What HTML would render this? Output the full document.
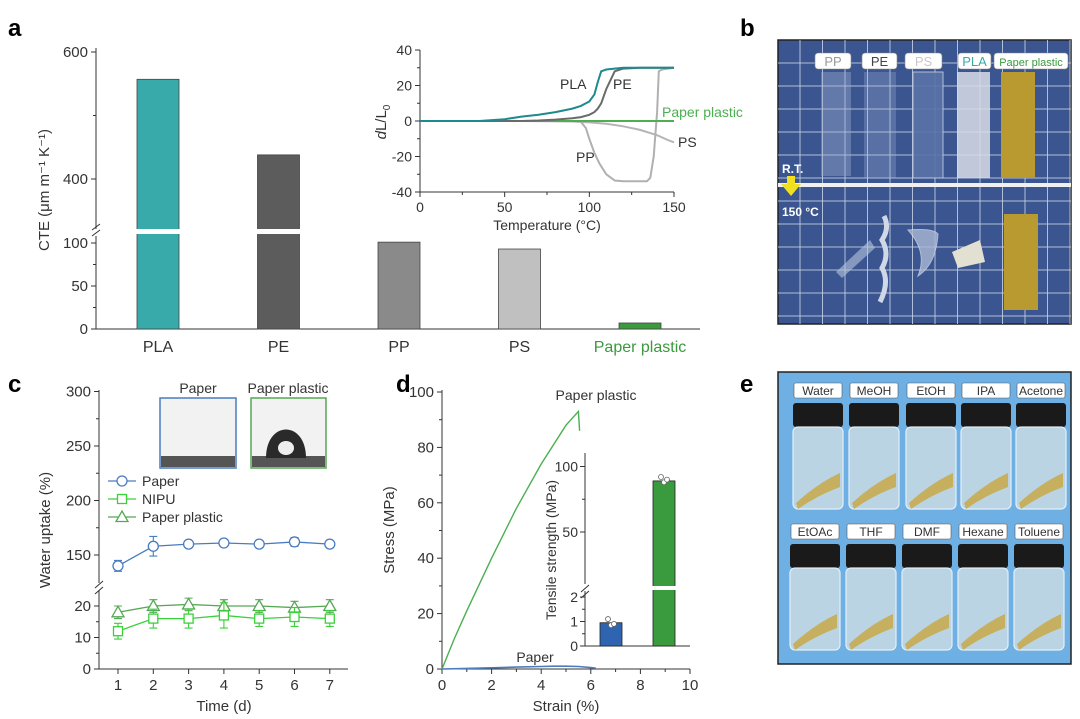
<!DOCTYPE html>
<html><head><meta charset="utf-8"><style>
html,body{margin:0;padding:0;background:#fff}
svg{display:block;font-family:"Liberation Sans Narrow","Liberation Sans",sans-serif}
</style></head><body>
<svg id="fig" width="1080" height="719" viewBox="0 0 1080 719" xmlns="http://www.w3.org/2000/svg">
<g font-family="Liberation Sans,sans-serif" font-weight="bold" font-size="24" fill="#000">
<text x="8" y="36">a</text>
<text x="740" y="36">b</text>
<text x="8" y="392">c</text>
<text x="396" y="392">d</text>
<text x="740" y="392">e</text>
</g>
<g id="pa"></g>
<g id="pai"></g>
<g id="pb"></g>
<g id="pc"></g>
<g id="pd"></g>
<g id="pdi"></g>
<g id="pe"></g>
</svg>
<script>
// ---- Panel a data
const cteCats = ["PLA","PE","PP","PS","Paper plastic"];
const cteVals = [557, 438, 101, 93, 7];
const cteColors = ["#38aaaa","#5c5c5c","#8a8a8a","#c0c0c0","#3a9a3e"];
const cteTicksUpper = [400, 600];
const cteTicksLower = [0, 50, 100];
// ---- Panel a inset data
const tempX = [0,20,35,50,60,70,80,90,95,100,103,105,107,110,115,120,130,140,150];
const dlPLA = [0,0,0,1,2.5,3.5,5,7,8.5,11,15,22,28,29,29.5,30,30,30,30];
const dlPE  = [0,0,0,0,0,0.3,0.8,1.5,2.2,3.5,5,7,10,18,28,29.5,30,30,30];
const dlPaperPlastic = [0,0,0,0,0,0,0,0,0,0,0,0,0,0,0,0,0,0,0];
const ppX = [0,50,90,95,98,100,103,106,110,115,120,130,134,136,138,140,141,143,150];
const dlPP = [0,0,0,-0.5,-4,-10,-18,-24,-30,-33.5,-34,-34,-34,-32,-20,5,28,29,30];
const psX = [0,60,90,100,110,120,130,140,147,150];
const dlPS = [0,0,-0.3,-0.8,-1.5,-3,-5,-8,-11,-12];
const insetXTicks = [0,50,100,150];
const insetYTicks = [-40,-20,0,20,40];
// ---- Panel c data
const days = [1,2,3,4,5,6,7];
const paperUptake = [140,158,160,161,160,162,160];
const paperErr = [5,9,3,3,3,4,3];
const nipuUptake = [12,16,16,17,16,16.5,16];
const nipuErr = [2.5,3,3,4,2.5,3,2.5];
const ppUptake = [18,20,20.5,20,20,19.5,20];
const ppErr = [2,2,2,2,2,2,2];
const cTicksUpper = [150,200,250,300];
const cTicksLower = [0,10,20];
// ---- Panel d data
const strainPP = [0,0.5,1,2,3,4,5,5.5,5.55];
const stressPP = [0,11,21,40,58,74,88,93,86];
const strainPaper = [0,1,2,3,4,4.5,5,5.5,6,6.2];
const stressPaper = [0,0.2,0.45,0.7,0.9,1,1,0.9,0.5,0.3];
const dXTicks = [0,2,4,6,8,10];
const dYTicks = [0,20,40,60,80,100];
const tensCats = ["Paper","Paper plastic"];
const tensVals = [0.95, 89];
const tensPtsPaper = [1.1,0.85,0.9];
const tensPtsPP = [92,88,90];

const NS="http://www.w3.org/2000/svg";
function mk(parent,tag,attrs,text){const e=document.createElementNS(NS,tag);for(const k in attrs)e.setAttribute(k,attrs[k]);if(text!==undefined)e.textContent=text;parent.appendChild(e);return e;}
const FS=15;

// ================= Panel A
(function(){
const g=document.getElementById('pa');
const ax=96, xEnd=700, y0=329;
const yU=v=>52+(600-v)*0.635;
const yL=v=>y0-v*0.86;
const yA=v=>v>200?yU(v):yL(v);
const cx=i=>158+i*120.5;
mk(g,'line',{x1:ax,y1:48,x2:ax,y2:229,stroke:'#333','stroke-width':1});
mk(g,'line',{x1:ax,y1:236,x2:ax,y2:y0,stroke:'#333','stroke-width':1});
mk(g,'line',{x1:ax,y1:y0,x2:xEnd,y2:y0,stroke:'#333','stroke-width':1});
mk(g,'path',{d:`M${ax-4},${230}L${ax+4},${224}M${ax-4},${236}L${ax+4},${230}`,stroke:'#333',fill:'none'});
cteTicksUpper.forEach(v=>{const y=yU(v);mk(g,'line',{x1:ax-5,y1:y,x2:ax,y2:y,stroke:'#333'});
const tx=mk(g,'text',{x:ax-8,y:y+5,'text-anchor':'end','font-size':FS,fill:'#333'},v);
});
[500].forEach(v=>mk(g,'line',{x1:ax-3,y1:yU(v),x2:ax,y2:yU(v),stroke:'#333'}));
cteTicksLower.forEach(v=>{const y=yL(v);mk(g,'line',{x1:ax-5,y1:y,x2:ax,y2:y,stroke:'#333'});
const tx=mk(g,'text',{x:ax-8,y:y+5,'text-anchor':'end','font-size':FS,fill:'#333'},v);
});
[25,75].forEach(v=>mk(g,'line',{x1:ax-3,y1:yL(v),x2:ax,y2:yL(v),stroke:'#333'}));
const tt=mk(g,'text',{transform:'translate(49,190) rotate(-90)','text-anchor':'middle','font-size':FS,fill:'#333'},'CTE (μm m⁻¹ K⁻¹)');

cteVals.forEach((v,i)=>{const x=cx(i)-21;const top=yA(v);
const r=mk(g,'rect',{x:x,y:top,width:42,height:y0-top,fill:cteColors[i],stroke:'#444','stroke-width':0.8});

if(v>200) mk(g,'rect',{x:x-1,y:229,width:44,height:5,fill:'#fff'});
const lb=mk(g,'text',{x:cx(i),y:352,'text-anchor':'middle','font-size':16,fill:i==4?'#3a9a3e':'#333'},cteCats[i]);
});
})();

// ================= Panel A inset
(function(){
const g=document.getElementById('pai');
const X=v=>420+v*(254/150), Y=v=>121-v*(71/40);
mk(g,'line',{x1:420,y1:50,x2:420,y2:192,stroke:'#333'});
mk(g,'line',{x1:420,y1:192,x2:674,y2:192,stroke:'#333'});
insetXTicks.forEach(v=>{mk(g,'line',{x1:X(v),y1:192,x2:X(v),y2:197,stroke:'#333'});
const t=mk(g,'text',{x:X(v),y:212,'text-anchor':'middle','font-size':14,fill:'#333'},v);
});
[25,75,125].forEach(v=>mk(g,'line',{x1:X(v),y1:192,x2:X(v),y2:195,stroke:'#333'}));
insetYTicks.forEach(v=>{mk(g,'line',{x1:415,y1:Y(v),x2:420,y2:Y(v),stroke:'#333'});
const t=mk(g,'text',{x:412,y:Y(v)+5,'text-anchor':'end','font-size':14,fill:'#333'},v);
});
[-30,-10,10,30].forEach(v=>mk(g,'line',{x1:417,y1:Y(v),x2:420,y2:Y(v),stroke:'#333'}));
const xt=mk(g,'text',{x:547,y:230,'text-anchor':'middle','font-size':14,fill:'#333'},'Temperature (°C)');

const yt=mk(g,'text',{transform:'translate(386,122) rotate(-90)','text-anchor':'middle','font-size':15,fill:'#333'});

mk(yt,'tspan',{'font-style':'italic'},'d');mk(yt,'tspan',{},'L/L');mk(yt,'tspan',{'font-size':10,dy:4},'0');
function line(xs,ys,col,name){const d=xs.map((x,i)=>(i?'L':'M')+X(x).toFixed(1)+','+Y(ys[i]).toFixed(1)).join('');
const p=mk(g,'path',{d:d,fill:'none',stroke:col,'stroke-width':2});}
line(psX,dlPS,'#b5b5b5','line-ps');
line(ppX,dlPP,'#b0b0b0','line-pp');
line(tempX,dlPaperPlastic,'#4caf50','line-paper-plastic');
line(tempX,dlPE,'#6a6a6a','line-pe');
line(tempX,dlPLA,'#1e8a8c','line-pla');
[['PLA',560,89,'#333'],['PE',613,89,'#333'],['Paper plastic',662,117,'#4caf50'],['PS',678,147,'#333'],['PP',576,162,'#333']].forEach(a=>{
const t=mk(g,'text',{x:a[1],y:a[2],'font-size':14,fill:a[3]},a[0]);});
})();

// ================= Panel B photo
(function(){
const g=document.getElementById('pb');
const x0=778,y0=40,w=293,h=284;
mk(g,'rect',{x:x0,y:y0,width:w,height:h,fill:'#3a5590',stroke:'#222','stroke-width':1.5});
for(let x=x0+22;x<x0+w;x+=22.5) mk(g,'line',{x1:x,y1:y0,x2:x,y2:y0+h,stroke:'#c8d2e6','stroke-width':1,opacity:0.85});
for(let y=y0+23;y<y0+h;y+=23) mk(g,'line',{x1:x0,y1:y,x2:x0+w,y2:y,stroke:'#c8d2e6','stroke-width':1,opacity:0.85});
mk(g,'rect',{x:x0,y:183,width:w,height:4,fill:'#f0f0f0'});
mk(g,'rect',{x:821,y:72,width:30,height:104,fill:'#9fb0cf',opacity:0.4});
mk(g,'rect',{x:864,y:72,width:32,height:106,fill:'#9fb0cf',opacity:0.3});
mk(g,'rect',{x:913,y:72,width:30,height:106,fill:'#5a73a8',stroke:'#c0cae0',opacity:0.9});
mk(g,'rect',{x:957,y:72,width:33,height:106,fill:'#d8dde6',opacity:0.85});
mk(g,'rect',{x:1001,y:72,width:34,height:106,fill:'#b89a30'});
mk(g,'rect',{x:1004,y:214,width:34,height:96,fill:'#b89a30'});
mk(g,'path',{d:'M836,272 L870,240 L875,248 L842,278Z',fill:'#b8c4dc',opacity:0.6});
mk(g,'path',{d:'M884,216 q6,12 -2,24 q8,14 0,28 q8,14 -2,34',stroke:'#d0d8e8','stroke-width':5,fill:'none'});
mk(g,'path',{d:'M908,230 q25,-2 30,4 q-2,30 -20,42 q10,-24 -10,-46Z',fill:'#aab8d4',stroke:'#d0d8e8',opacity:0.8});
mk(g,'path',{d:'M952,252 L980,240 L985,262 L958,268Z',fill:'#e2e0d0'});
mk(g,'path',{d:'M787,176 h8 v8 h6 l-10,12 l-10,-12 h6z',fill:'#f0e020'});
const rt=mk(g,'text',{x:782,y:173,'font-size':12,'font-weight':'bold',fill:'#fff','font-family':'Liberation Sans,sans-serif'},'R.T.');

const ht=mk(g,'text',{x:782,y:216,'font-size':12,'font-weight':'bold',fill:'#fff','font-family':'Liberation Sans,sans-serif'},'150 °C');

[['PP',815,36,'#999'],['PE',862,35,'#444'],['PS',905,37,'#c8c8c8'],['PLA',958,33,'#38aaaa'],['Paper plastic',994,74,'#3a9a3e']].forEach(a=>{
mk(g,'rect',{x:a[1],y:53,width:a[2],height:16,rx:3,fill:'#fff',stroke:'#888','stroke-width':0.6});
const t=mk(g,'text',{x:a[1]+a[2]/2,y:66,'text-anchor':'middle','font-size':a[0].length>4?11:13,fill:a[3],'font-family':'Liberation Sans,sans-serif'},a[0]);
});
})();

// ================= Panel C
(function(){
const g=document.getElementById('pc');
const ax=99;
const yU=v=>555-(v-150)*1.09, yL=v=>669-v*3.15;
const X=d=>118+(d-1)*35.3;
mk(g,'line',{x1:ax,y1:390,x2:ax,y2:583,stroke:'#333'});
mk(g,'line',{x1:ax,y1:590,x2:ax,y2:669,stroke:'#333'});
mk(g,'path',{d:`M${ax-4},588L${ax+4},581M${ax-4},594L${ax+4},587`,stroke:'#333',fill:'none'});
mk(g,'line',{x1:ax,y1:669,x2:348,y2:669,stroke:'#333'});
cTicksUpper.forEach(v=>{mk(g,'line',{x1:ax-5,y1:yU(v),x2:ax,y2:yU(v),stroke:'#333'});
const t=mk(g,'text',{x:ax-8,y:yU(v)+5,'text-anchor':'end','font-size':FS,fill:'#333'},v);});
[175,225,275].forEach(v=>mk(g,'line',{x1:ax-3,y1:yU(v),x2:ax,y2:yU(v),stroke:'#333'}));
cTicksLower.forEach(v=>{mk(g,'line',{x1:ax-5,y1:yL(v),x2:ax,y2:yL(v),stroke:'#333'});
const t=mk(g,'text',{x:ax-8,y:yL(v)+5,'text-anchor':'end','font-size':FS,fill:'#333'},v);});
[5,15].forEach(v=>mk(g,'line',{x1:ax-3,y1:yL(v),x2:ax,y2:yL(v),stroke:'#333'}));
days.forEach(d=>{mk(g,'line',{x1:X(d),y1:669,x2:X(d),y2:674,stroke:'#333'});
const t=mk(g,'text',{x:X(d),y:690,'text-anchor':'middle','font-size':FS,fill:'#333'},d);});
const xt=mk(g,'text',{x:224,y:711,'text-anchor':'middle','font-size':FS,fill:'#333'},'Time (d)');
const yt=mk(g,'text',{transform:'translate(50,530) rotate(-90)','text-anchor':'middle','font-size':FS,fill:'#333'},'Water uptake (%)');
function marker(shape,x,y,col){
 if(shape=='o') return mk(g,'circle',{cx:x,cy:y,r:5,fill:'#fff',stroke:col,'stroke-width':1.3});
 if(shape=='s') return mk(g,'rect',{x:x-4.5,y:y-4.5,width:9,height:9,fill:'#fff',stroke:col,'stroke-width':1.3});
 return mk(g,'path',{d:`M${x},${y-6}L${x+6},${y+4.5}L${x-6},${y+4.5}Z`,fill:'#fff',stroke:col,'stroke-width':1.3});}
function series(vals,errs,Y,col,shape,name){
 const d=vals.map((v,i)=>(i?'L':'M')+X(days[i])+','+Y(v)).join('');
 const p=mk(g,'path',{d:d,fill:'none',stroke:col,'stroke-width':1.3});
 vals.forEach((v,i)=>{const x=X(days[i]);const a=Y(v+errs[i]),b=Y(v-errs[i]);
  mk(g,'path',{d:`M${x},${a}V${b}M${x-4},${a}H${x+4}M${x-4},${b}H${x+4}`,stroke:col,'stroke-width':1.1,fill:'none'});
  const m=marker(shape,x,Y(v),col);});}
series(paperUptake,paperErr,yU,'#4a7cc0','o','paper');
series(ppUptake,ppErr,yL,'#55a855','t','paper-plastic');
series(nipuUptake,nipuErr,yL,'#3ad03a','s','nipu');
[['Paper','#4a7cc0','o',481],['NIPU','#3ad03a','s',499],['Paper plastic','#55a855','t',517]].forEach(a=>{
 mk(g,'line',{x1:108,y1:a[3],x2:136,y2:a[3],stroke:a[1],'stroke-width':1.3});marker(a[2],122,a[3],a[1]);
 const t=mk(g,'text',{x:142,y:a[3]+5,'font-size':14,fill:'#333'},a[0]);});
mk(g,'rect',{x:160,y:398,width:76,height:70,fill:'#f2f2f2',stroke:'#4a7cc0','stroke-width':1.5});
mk(g,'rect',{x:161,y:456,width:74,height:11,fill:'#555'});
mk(g,'rect',{x:251,y:398,width:75,height:70,fill:'#f2f2f2',stroke:'#55a855','stroke-width':1.5});
mk(g,'rect',{x:252,y:456,width:73,height:11,fill:'#555'});
mk(g,'path',{d:'M266,458 C266,420 306,420 306,458Z',fill:'#2a2a2a'});
mk(g,'ellipse',{cx:286,cy:448,rx:8,ry:7,fill:'#eee'});
[['Paper',198],['Paper plastic',288]].forEach(a=>{const t=mk(g,'text',{x:a[1],y:393,'text-anchor':'middle','font-size':14,fill:'#333'},a[0]);});
})();

// ================= Panel D
(function(){
const g=document.getElementById('pd');
const X=v=>442+v*24.8, Y=v=>669-v*2.77;
mk(g,'line',{x1:442,y1:390,x2:442,y2:669,stroke:'#333'});
mk(g,'line',{x1:442,y1:669,x2:690,y2:669,stroke:'#333'});
dXTicks.forEach(v=>{mk(g,'line',{x1:X(v),y1:669,x2:X(v),y2:674,stroke:'#333'});
const t=mk(g,'text',{x:X(v),y:690,'text-anchor':'middle','font-size':FS,fill:'#333'},v);});
[1,3,5,7,9].forEach(v=>mk(g,'line',{x1:X(v),y1:669,x2:X(v),y2:672,stroke:'#333'}));
dYTicks.forEach(v=>{mk(g,'line',{x1:437,y1:Y(v),x2:442,y2:Y(v),stroke:'#333'});
const t=mk(g,'text',{x:434,y:Y(v)+5,'text-anchor':'end','font-size':FS,fill:'#333'},v);});
[10,30,50,70,90].forEach(v=>mk(g,'line',{x1:439,y1:Y(v),x2:442,y2:Y(v),stroke:'#333'}));
const xt=mk(g,'text',{x:566,y:711,'text-anchor':'middle','font-size':FS,fill:'#333'},'Strain (%)');
const yt=mk(g,'text',{transform:'translate(394,530) rotate(-90)','text-anchor':'middle','font-size':FS,fill:'#333'},'Stress (MPa)');
function line(xs,ys,col,name,w){const d=xs.map((x,i)=>(i?'L':'M')+X(x).toFixed(1)+','+Y(ys[i]).toFixed(1)).join('');
const p=mk(g,'path',{d:d,fill:'none',stroke:col,'stroke-width':w});}
line(strainPP,stressPP,'#4caf50','curve-paper-plastic',1.4);
line(strainPaper,stressPaper,'#4a7cc0','curve-paper',1.6);
const a=mk(g,'text',{x:596,y:400,'text-anchor':'middle','font-size':14,fill:'#333'},'Paper plastic');
const b=mk(g,'text',{x:535,y:662,'text-anchor':'middle','font-size':14,fill:'#333'},'Paper');
})();

// ================= Panel D inset
(function(){
const g=document.getElementById('pdi');
const yL=v=>646-v*24.5, yU=v=>532-(v-50)*1.31;
const Y=v=>v>10?yU(v):yL(v);
const cx=[611,664];
mk(g,'line',{x1:585,y1:453,x2:585,y2:584,stroke:'#333'});
mk(g,'line',{x1:585,y1:591,x2:585,y2:646,stroke:'#333'});
mk(g,'path',{d:'M581,592L589,585M581,598L589,591',stroke:'#333',fill:'none'});
mk(g,'line',{x1:585,y1:646,x2:690,y2:646,stroke:'#333'});
[0,1,2].forEach(v=>{mk(g,'line',{x1:580,y1:yL(v),x2:585,y2:yL(v),stroke:'#333'});
const t=mk(g,'text',{x:578,y:yL(v)+5,'text-anchor':'end','font-size':14,fill:'#333'},v);});
[0.5,1.5].forEach(v=>mk(g,'line',{x1:582,y1:yL(v),x2:585,y2:yL(v),stroke:'#333'}));
[50,100].forEach(v=>{mk(g,'line',{x1:580,y1:yU(v),x2:585,y2:yU(v),stroke:'#333'});
const t=mk(g,'text',{x:578,y:yU(v)+5,'text-anchor':'end','font-size':14,fill:'#333'},v);});
[75].forEach(v=>mk(g,'line',{x1:582,y1:yU(v),x2:585,y2:yU(v),stroke:'#333'}));
const yt=mk(g,'text',{transform:'translate(556,550) rotate(-90)','text-anchor':'middle','font-size':14,fill:'#333'},'Tensile strength (MPa)');
const cols=['#2f64b0','#3a9a3e'];
tensVals.forEach((v,i)=>{const top=Y(v);const r=mk(g,'rect',{x:cx[i]-11,y:top,width:22,height:646-top,fill:cols[i],stroke:'#222','stroke-width':0.8});

if(v>10) mk(g,'rect',{x:cx[i]-12,y:586,width:24,height:4,fill:'#fff'});});
tensPtsPaper.forEach((v,j)=>mk(g,'circle',{cx:cx[0]-3+j*3,cy:yL(v),r:2.5,fill:'#fff',stroke:'#666','stroke-width':0.8}));
tensPtsPP.forEach((v,j)=>mk(g,'circle',{cx:cx[1]-3+j*3,cy:yU(v),r:2.5,fill:'#fff',stroke:'#666','stroke-width':0.8}));
})();

// ================= Panel E photo
(function(){
const g=document.getElementById('pe');
const x0=778,y0=372,w=293,h=292;
mk(g,'rect',{x:x0,y:y0,width:w,height:h,fill:'#6fb0e4',stroke:'#222','stroke-width':1.5});
const labels=[['Water','MeOH','EtOH','IPA','Acetone'],['EtOAc','THF','DMF','Hexane','Toluene']];
const cxs=[[818,874,931,986,1041],[815,871,927,983,1039]];
const rowsY=[383,524];
labels.forEach((row,r)=>row.forEach((lab,i)=>{const cx=cxs[r][i],ly=rowsY[r];
 mk(g,'rect',{x:cx-24,y:ly,width:48,height:15,fill:'#fff',stroke:'#555','stroke-width':0.6,rx:2});
 const t=mk(g,'text',{x:cx,y:ly+12,'text-anchor':'middle','font-size':12,fill:'#333','font-family':'Liberation Sans,sans-serif'},lab);
 
 mk(g,'rect',{x:cx-25,y:ly+20,width:50,height:24,rx:3,fill:'#1a1a1a'});
 mk(g,'rect',{x:cx-25,y:ly+44,width:50,height:82,rx:5,fill:'#c4d8e4',stroke:'#eef6fc','stroke-width':1.2,opacity:0.9});
 mk(g,'path',{d:`M${cx-22},${ly+120} Q${cx},${ly+100} ${cx+22},${ly+90} L${cx+22},${ly+104} Q${cx},${ly+112} ${cx-20},${ly+126}Z`,fill:'#c8a848',opacity:0.85});
}));
})();
</script>
</body></html>
